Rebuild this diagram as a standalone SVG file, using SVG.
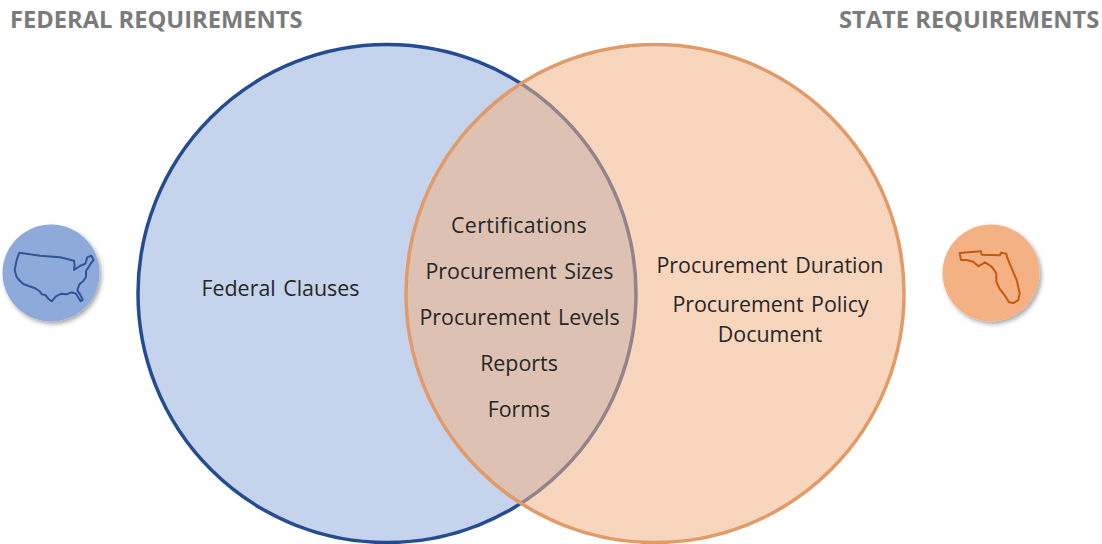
<svg xmlns="http://www.w3.org/2000/svg" width="1102" height="544" viewBox="0 0 1102 544">
<style>
.h{font-family:"Open Sans","Noto Sans",sans-serif;font-weight:700;font-size:23.7px;fill:#7b7b7b}
.t{font-family:"Open Sans","Noto Sans",sans-serif;font-size:21.4px;fill:#262626;text-anchor:middle;word-spacing:2px}
.map{fill:none;stroke-width:6;stroke-linejoin:round}
</style>
<defs>
<filter id="s" x="-20%" y="-20%" width="140%" height="140%"><feDropShadow dx="2" dy="2.5" stdDeviation="2" flood-color="#000" flood-opacity="0.35"/></filter>
</defs>
<rect width="1102" height="544" fill="#fff"/>
<g id="federal-title"><text class="h" x="10" y="28">FEDERAL REQUIREMENTS</text></g>
<g id="state-title"><text class="h" x="839" y="28">STATE REQUIREMENTS</text></g>
<g id="federal-circle"><circle cx="387" cy="293.5" r="249" fill="#c5d3ec" stroke="#234c92" stroke-width="3.500"/></g>
<g id="state-circle"><circle cx="655" cy="293.5" r="249" fill="#f2b485" fill-opacity="0.54" stroke="#e19a68" stroke-width="3.500"/>
</g>
<g id="federal-label"><text class="t" x="280.500" y="296">Federal Clauses</text></g>
<g id="shared-labels">
<text class="t" x="519" y="233" letter-spacing=".35">Certifications</text>
<text class="t" x="519.500" y="279">Procurement Sizes</text>
<text class="t" x="519.500" y="325">Procurement Levels</text>
<text class="t" x="519" y="371">Reports</text>
<text class="t" x="519" y="417">Forms</text>
</g>
<g id="state-labels">
<text class="t" x="770" y="272.500">Procurement Duration</text>
<text class="t" x="770.500" y="312">Procurement Policy</text>
<text class="t" x="770" y="342">Document</text>
</g>
<g id="usa-icon">
<circle cx="51" cy="273" r="48.500" fill="#8eaadb" filter="url(#s)"/>
<path class="map" stroke="#2f5597" transform="translate(0 215) scale(.3333)" d="M58 113L90 118L120 122L180 127L222 137L224 150L222 165L240 153L256 146L262 127L274 122L281 135L272 146L266 156L258 168L258 186L250 198L238 208L232 226L240 238L248 254L242 259L234 246L228 236L214 232L200 238L184 236L168 244L155 259L146 252L136 240L126 238L118 228L104 219L86 213L70 207L58 196L50 186L44 165L50 135Z"/>
</g>
<g id="florida-icon">
<circle cx="991" cy="273" r="48.500" fill="#f4b183" filter="url(#s)"/>
<path class="map" stroke="#c55a11" transform="translate(935 215) scale(.3333)" d="M74 114L138 109L140 119L195 121L198 113L214 116L216 126L230 160L245 195L254 235L250 255L236 264L222 262L210 242L194 222L184 200L184 175L170 155L150 142L130 154L115 140L95 135L78 135Z"/>
</g>
</svg>
